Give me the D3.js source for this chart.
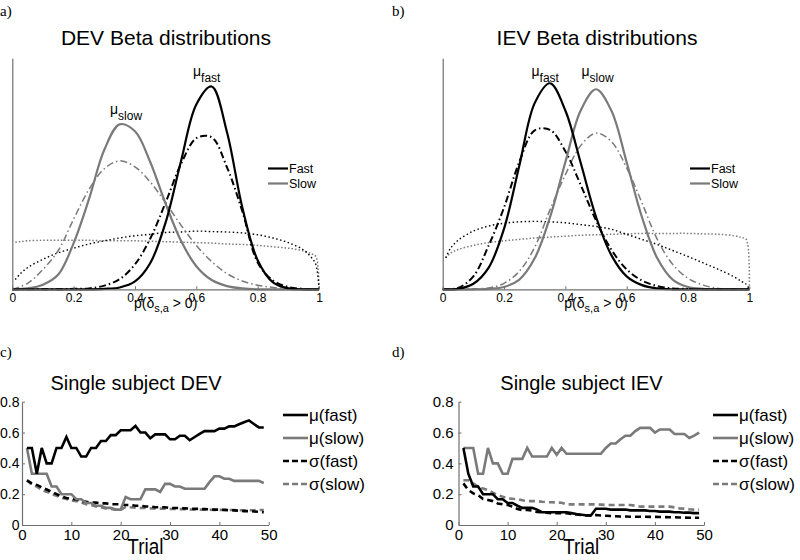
<!DOCTYPE html>
<html><head><meta charset="utf-8">
<script src="https://cdn.jsdelivr.net/npm/d3@7"></script>
<style>
body{margin:0;background:#fff}
svg{display:block}
text{font-family:"Liberation Sans",Arial,Helvetica,sans-serif;fill:#000}
</style>
</head><body>
<svg id="chart" width="800" height="560"></svg>
<script>
// ---------------- DATA ----------------
const betaX = [0,0.05,0.1,0.15,0.2,0.25,0.3,0.35,0.4,0.45,0.5,0.55,0.6,0.65,0.7,0.75,0.8,0.85,0.9,0.95,1];
const dottedX = [0.01,0.025,0.05,0.1,0.15,0.2,0.25,0.3,0.35,0.4,0.45,0.5,0.55,0.6,0.65,0.7,0.75,0.8,0.85,0.9,0.95,0.975,0.99,1];

// DEV panel (a)
const devFastSolid   = [0,0,0,0,0,0,0.01,0.04,0.17,0.57,1.45,2.77,4.00,4.39,3.40,1.77,0.63,0.15,0.02,0,0];
const devFastDashDot = [0,0,0,0,0.01,0.02,0.08,0.22,0.54,1.10,1.88,2.71,3.27,3.29,2.64,1.69,0.58,0.19,0.05,0.01,0];
const devSlowSolid   = [0,0.02,0.10,0.32,1.00,1.95,3.02,3.57,3.42,2.75,1.85,1.05,0.50,0.20,0.07,0.02,0,0,0,0,0];
const devSlowDashDot = [0,0.13,0.43,0.84,1.52,2.16,2.61,2.78,2.65,2.32,1.87,1.39,0.95,0.60,0.34,0.18,0.09,0.04,0.02,0.01,0];
const devFastDotted  = [0.21,0.33,0.47,0.65,0.79,0.89,0.98,1.05,1.11,1.16,1.19,1.23,1.24,1.26,1.25,1.24,1.22,1.18,1.11,1.01,0.85,0.69,0.53,0];
const devSlowDotted  = [1.02,1.03,1.05,1.06,1.06,1.06,1.06,1.05,1.05,1.05,1.04,1.03,1.02,1.01,1.00,0.98,0.97,0.95,0.92,0.89,0.83,0.77,0.71,0];

// IEV panel (b)
const ievFastSolid   = [0,0.01,0.12,0.47,1.31,2.68,4.03,4.46,3.87,2.74,1.57,0.74,0.28,0.09,0.02,0,0,0,0,0,0];
const ievFastDashDot = [0,0.03,0.28,0.95,1.77,2.76,3.44,3.45,2.99,2.26,1.49,0.86,0.43,0.19,0.07,0.02,0.01,0,0,0,0];
const ievSlowSolid   = [0,0,0,0.01,0.05,0.21,0.67,1.56,2.75,3.87,4.33,3.87,2.75,1.56,0.67,0.21,0.05,0.01,0,0,0];
const ievSlowDashDot = [0,0,0.01,0.03,0.13,0.39,0.91,1.72,2.48,3.11,3.38,3.20,2.63,1.87,1.08,0.54,0.24,0.09,0.02,0,0];
const ievFastDotted  = [0.68,0.88,1.06,1.26,1.37,1.43,1.46,1.47,1.46,1.44,1.40,1.36,1.30,1.19,1.08,0.97,0.84,0.71,0.57,0.43,0.27,0.17,0.11,0];
const ievSlowDotted  = [0.68,0.78,0.86,0.95,1.01,1.05,1.08,1.11,1.13,1.15,1.17,1.18,1.19,1.20,1.21,1.21,1.21,1.21,1.20,1.19,1.16,1.12,1.08,0];

const betaTickValues = [0,0.2,0.4,0.6,0.8,1];
const betaTickLabels = ["0","0.2","0.4","0.6","0.8","1"];

// Trials (c, d)
const trials = d3.range(1,50);
const devMuFast = [0.5,0.5,0.333,0.5,0.4,0.4,0.5,0.5,0.571,0.5,0.5,0.444,0.444,0.5,0.5,0.545,0.545,0.583,0.583,0.615,0.615,0.615,0.643,0.6,0.6,0.563,0.588,0.588,0.588,0.556,0.556,0.579,0.579,0.55,0.571,0.591,0.609,0.609,0.609,0.625,0.625,0.64,0.64,0.654,0.667,0.679,0.655,0.633,0.633];
const devMuSlow = [0.5,0.333,0.333,0.333,0.333,0.25,0.25,0.2,0.2,0.2,0.167,0.167,0.143,0.143,0.125,0.125,0.111,0.111,0.1,0.1,0.182,0.167,0.167,0.167,0.231,0.231,0.231,0.214,0.267,0.267,0.25,0.25,0.235,0.235,0.235,0.235,0.235,0.278,0.316,0.316,0.3,0.3,0.286,0.286,0.286,0.286,0.286,0.286,0.273];
const devSigmaFast = [0.29,0.27,0.26,0.245,0.23,0.215,0.2,0.185,0.175,0.17,0.165,0.155,0.15,0.145,0.145,0.14,0.14,0.135,0.135,0.135,0.13,0.13,0.125,0.125,0.12,0.12,0.115,0.115,0.115,0.11,0.11,0.11,0.108,0.106,0.105,0.104,0.103,0.102,0.1,0.1,0.098,0.096,0.095,0.093,0.09,0.09,0.088,0.085,0.083];
const devSigmaSlow = [0.29,0.26,0.25,0.227,0.216,0.2,0.19,0.177,0.168,0.16,0.155,0.147,0.134,0.13,0.12,0.116,0.108,0.104,0.1,0.097,0.118,0.115,0.113,0.111,0.11,0.108,0.107,0.106,0.105,0.104,0.104,0.103,0.102,0.101,0.1,0.1,0.099,0.099,0.098,0.098,0.097,0.097,0.097,0.096,0.096,0.096,0.096,0.097,0.097];

const ievMuFast = [0.5,0.333,0.25,0.25,0.2,0.2,0.2,0.167,0.167,0.143,0.143,0.125,0.111,0.111,0.111,0.1,0.083,0.083,0.083,0.083,0.083,0.083,0.077,0.071,0.067,0.063,0.063,0.105,0.105,0.105,0.1,0.1,0.1,0.1,0.095,0.095,0.095,0.095,0.091,0.091,0.087,0.087,0.087,0.083,0.083,0.08,0.08,0.077,0.077];
const ievMuSlow = [0.5,0.5,0.5,0.333,0.333,0.5,0.4,0.4,0.333,0.333,0.429,0.429,0.429,0.5,0.444,0.444,0.444,0.444,0.5,0.455,0.5,0.462,0.462,0.462,0.462,0.462,0.462,0.462,0.462,0.5,0.529,0.529,0.556,0.579,0.579,0.609,0.63,0.63,0.63,0.6,0.62,0.62,0.62,0.59,0.59,0.59,0.565,0.58,0.6];
const ievSigmaFast = [0.27,0.227,0.205,0.194,0.168,0.162,0.155,0.14,0.134,0.13,0.12,0.104,0.097,0.097,0.093,0.085,0.082,0.08,0.076,0.076,0.076,0.076,0.072,0.068,0.065,0.062,0.06,0.065,0.062,0.06,0.058,0.057,0.055,0.055,0.054,0.054,0.054,0.054,0.053,0.053,0.052,0.051,0.05,0.05,0.049,0.048,0.047,0.047,0.047];
const ievSigmaSlow = [0.29,0.29,0.27,0.248,0.237,0.227,0.21,0.194,0.183,0.173,0.17,0.168,0.16,0.155,0.155,0.155,0.151,0.148,0.148,0.146,0.144,0.134,0.134,0.134,0.134,0.134,0.134,0.134,0.132,0.13,0.13,0.13,0.13,0.13,0.13,0.125,0.119,0.119,0.119,0.119,0.119,0.119,0.119,0.114,0.108,0.106,0.102,0.1,0.1];

const trialTickValues = [0,10,20,30,40,50];
const trialYTicks = [0,0.2,0.4,0.6,0.8];
const trialYLabels = ["0","0.2","0.4","0.6","0.8"];
const trialLegend = ["μ(fast)","μ(slow)","σ(fast)","σ(slow)"];
const betaLegend = ["Fast","Slow"];

// ---------------- DRAWING ----------------
const svg = d3.select("#chart");
const BLACK = "#000", GRAY = "#7a7a7a", AXIS = "#707070";

function panelLabel(txt, x, y){
  svg.append("text").attr("x",x).attr("y",y).style("font-family","'Liberation Serif','Times New Roman',serif")
    .style("font-size","15px").text(txt);
}

function muLabel(g, x, y, sub){
  const t = g.append("text").attr("x",x).attr("y",y).style("font-size","14px");
  t.append("tspan").text("μ");
  t.append("tspan").attr("dy",6).style("font-size","12px").text(sub);
}

function betaPanel(cfg){
  const x = d3.scaleLinear().domain([0,1]).range([cfg.x0,cfg.x1]);
  const y = d3.scaleLinear().domain([0,5]).range([289.3,58.3]);
  const g = svg.append("g");

  const line = (xs) => d3.line().x((d,i)=>x(xs[i])).y(d=>Math.min(y(0), y(d))).curve(d3.curveCatmullRom.alpha(0.5));

  const curves = [
    {xs:dottedX, v:cfg.slowDotted, c:GRAY, w:1.5, dash:"1.5,2"},
    {xs:dottedX, v:cfg.fastDotted, c:BLACK, w:1.4, dash:"1.5,2.5"},
    {xs:betaX, v:cfg.slowDashDot, c:GRAY, w:1.5, dash:"7,3,1.5,3"},
    {xs:betaX, v:cfg.fastDashDot, c:BLACK, w:2, dash:"7,3,1.5,3"},
    {xs:betaX, v:cfg.slowSolid, c:GRAY, w:2.2, dash:null},
    {xs:betaX, v:cfg.fastSolid, c:BLACK, w:2.2, dash:null}
  ];
  curves.forEach(cv=>{
    g.append("path").datum(cv.v).attr("d", line(cv.xs)).attr("fill","none")
      .attr("stroke",cv.c).attr("stroke-width",cv.w)
      .attr("stroke-dasharray",cv.dash);
  });

  // axes
  const xa = g.append("g").attr("transform",`translate(0,${y(0)})`)
    .call(d3.axisBottom(x).tickValues(betaTickValues).tickFormat((d,i)=>betaTickLabels[i])
      .tickSizeInner(-3).tickSizeOuter(0).tickPadding(4));
  xa.select(".domain").attr("stroke",AXIS).attr("stroke-width",1.2);
  xa.selectAll(".tick line").attr("stroke",AXIS);
  xa.selectAll(".tick text").style("font-size","12px").style("font-family","'Liberation Sans',Arial,sans-serif").attr("fill","#000");
  const ya = g.append("g").attr("transform",`translate(${x(0)},0)`)
    .call(d3.axisLeft(y).tickValues([]).tickSizeOuter(0));
  ya.select(".domain").attr("stroke",AXIS).attr("stroke-width",1.2);

  // title
  g.append("text").attr("x",cfg.titleX).attr("y",45).attr("text-anchor","middle")
    .style("font-size","21px").text(cfg.title);

  // x label p(δs,a > 0)
  const xl = g.append("text").attr("x",(cfg.x0+cfg.x1)/2).attr("y",308).attr("text-anchor","middle").style("font-size","14px");
  xl.append("tspan").text("p(δ");
  xl.append("tspan").attr("dy",4).style("font-size","11px").text("s,a");
  xl.append("tspan").attr("dy",-4).text(" > 0)");

  // mu labels
  cfg.mu.forEach(m=>muLabel(g, m.x, m.y, m.sub));

  // legend
  betaLegend.forEach((name,i)=>{
    const ly = cfg.legY + i*15;
    g.append("line").attr("x1",cfg.legX).attr("x2",cfg.legX+20).attr("y1",ly).attr("y2",ly)
      .attr("stroke", i===0?BLACK:GRAY).attr("stroke-width",2.2);
    g.append("text").attr("x",cfg.legX+21).attr("y",ly).attr("dy","0.35em").style("font-size","12.5px").text(name);
  });
}

function trialPanel(cfg){
  const x = d3.scaleLinear().domain([0,50]).range([cfg.x0,cfg.x1]);
  const y = d3.scaleLinear().domain([0,0.8]).range([525,401.7]);
  const g = svg.append("g");
  const line = d3.line().x((d,i)=>x(trials[i])).y(d=>y(d));

  const series = [
    {v:cfg.sigmaSlow, c:GRAY, dash:"6,4"},
    {v:cfg.sigmaFast, c:BLACK, dash:"6,4"},
    {v:cfg.muSlow, c:GRAY, dash:null},
    {v:cfg.muFast, c:BLACK, dash:null}
  ];
  series.forEach(s=>{
    g.append("path").datum(s.v).attr("d",line).attr("fill","none")
      .attr("stroke",s.c).attr("stroke-width",2.6).attr("stroke-dasharray",s.dash)
      .attr("stroke-linejoin","miter");
  });

  const xa = g.append("g").attr("transform",`translate(0,${y(0)})`)
    .call(d3.axisBottom(x).tickValues(trialTickValues).tickSizeInner(-3).tickSizeOuter(0).tickPadding(4));
  xa.select(".domain").attr("stroke",AXIS).attr("stroke-width",1.2);
  xa.selectAll(".tick line").attr("stroke",AXIS);
  xa.selectAll(".tick text").style("font-size","15px").style("font-family","'Liberation Sans',Arial,sans-serif").attr("fill","#000");

  const ya = g.append("g").attr("transform",`translate(${x(0)},0)`)
    .call(d3.axisLeft(y).tickValues(trialYTicks).tickFormat((d,i)=>trialYLabels[i]).tickSizeInner(-3).tickSizeOuter(0).tickPadding(cfg.yPad));
  ya.select(".domain").attr("stroke",AXIS).attr("stroke-width",1.2);
  ya.selectAll(".tick line").attr("stroke",AXIS);
  ya.selectAll(".tick text").style("font-size",cfg.yFont).style("font-family","'Liberation Sans',Arial,sans-serif").attr("fill","#000");

  g.append("text").attr("x",cfg.titleX).attr("y",390).attr("text-anchor","middle")
    .style("font-size","20px").text(cfg.title);

  g.append("text").attr("x",(cfg.x0+cfg.x1)/2).attr("y",553.5).attr("text-anchor","middle")
    .style("font-size","22px").attr("textLength",36).attr("lengthAdjust","spacingAndGlyphs").text("Trial");

  const legStyles = [{c:BLACK,dash:null},{c:GRAY,dash:null},{c:BLACK,dash:"6,3"},{c:GRAY,dash:"6,3"}];
  trialLegend.forEach((name,i)=>{
    const ly = 415 + i*23;
    g.append("line").attr("x1",cfg.legX).attr("x2",cfg.legX+25).attr("y1",ly).attr("y2",ly)
      .attr("stroke",legStyles[i].c).attr("stroke-width",2.6).attr("stroke-dasharray",legStyles[i].dash);
    g.append("text").attr("x",cfg.legX+26).attr("y",ly).attr("dy","0.35em").style("font-size","17px").text(name);
  });
}

panelLabel("a)",0,16);
panelLabel("b)",392,16);
panelLabel("c)",0,357);
panelLabel("d)",392,357);

betaPanel({x0:12.3,x1:319,titleX:166,title:"DEV Beta distributions",
  fastSolid:devFastSolid, fastDashDot:devFastDashDot, slowSolid:devSlowSolid, slowDashDot:devSlowDashDot,
  fastDotted:devFastDotted, slowDotted:devSlowDotted,
  mu:[{x:193,y:76,sub:"fast"},{x:110,y:114,sub:"slow"}], legX:268, legY:168.5});

betaPanel({x0:442.7,x1:749.3,titleX:597,title:"IEV Beta distributions",
  fastSolid:ievFastSolid, fastDashDot:ievFastDashDot, slowSolid:ievSlowSolid, slowDashDot:ievSlowDashDot,
  fastDotted:ievFastDotted, slowDotted:ievSlowDotted,
  mu:[{x:531.5,y:76,sub:"fast"},{x:581.5,y:76,sub:"slow"}], legX:690, legY:168.5});

trialPanel({x0:22,x1:268.7,titleX:136,title:"Single subject DEV",
  muFast:devMuFast, muSlow:devMuSlow, sigmaFast:devSigmaFast, sigmaSlow:devSigmaSlow, legX:283,
  yPad:2.5, yFont:"14px"});
trialPanel({x0:458.5,x1:704,titleX:581.5,title:"Single subject IEV",
  muFast:ievMuFast, muSlow:ievMuSlow, sigmaFast:ievSigmaFast, sigmaSlow:ievSigmaSlow, legX:713,
  yPad:5, yFont:"15px"});
</script>
</body></html>
